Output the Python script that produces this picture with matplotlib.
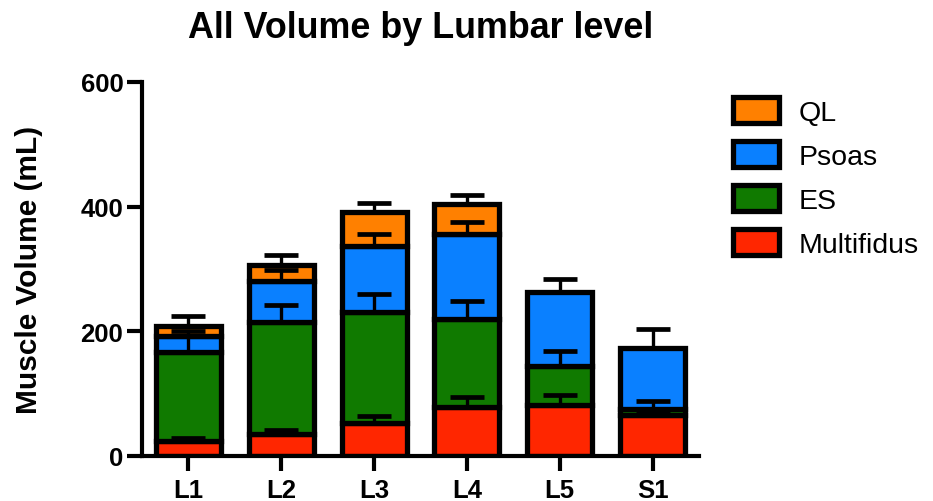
import matplotlib
matplotlib.use("Agg")
import matplotlib.pyplot as plt
from matplotlib.patches import Patch
import numpy as np

plt.rcParams['font.family'] = ['Liberation Sans', 'DejaVu Sans']

levels = ["L1", "L2", "L3", "L4", "L5", "S1"]
series = ["Multifidus", "ES", "Psoas", "QL"]
multifidus = [24, 35, 52.5, 79, 82, 65]
es = [143.5, 180, 178, 141, 62, 10.5]
psoas = [24.5, 66, 107, 136.5, 119, 98]
ql = [17, 26, 54, 48, 0, 0]
multifidus_err = [5, 7, 11, 15, 16, 5]
es_err = [25, 28, 30, 29, 24.6, 12.5]
psoas_err = [8, 18, 18, 18.5, 21, 30.5]
ql_err = [16, 15, 14, 14.5, 0, 0]
colors = ["#FF2600", "#107A00", "#0A80FF", "#FF8000"]

values = [multifidus, es, psoas, ql]
errors = [multifidus_err, es_err, psoas_err, ql_err]

W, H = 933, 502
fig = plt.figure(figsize=(W / 100, H / 100), dpi=100)
ax = fig.add_axes([142 / W, 1 - 457 / H, (699 - 142) / W, (457 - 83) / H])

x = np.arange(len(levels))
bottom = np.zeros(len(levels))
lw = 3.8
for vals, errs, col, name in zip(values, errors, colors, series):
    vals = np.array(vals, dtype=float)
    errs = np.array(errs, dtype=float)
    mask = vals > 0
    ax.bar(x[mask], vals[mask], bottom=bottom[mask], width=0.7, color=col,
           edgecolor="black", linewidth=lw, zorder=2, label=name)
    top = bottom + vals
    emask = mask & (errs > 0)
    ax.errorbar(x[emask], top[emask], yerr=[np.zeros(emask.sum()), errs[emask]],
                fmt="none", ecolor="black", elinewidth=2.4, capsize=12,
                capthick=3.4, zorder=4)
    bottom = top

ax.set_xlim(-0.5, 5.5)
ax.set_ylim(0, 600)
ax.set_yticks([0, 200, 400, 600])
ax.set_xticks(x)
ax.set_xticklabels(levels)
for s in ["top", "right"]:
    ax.spines[s].set_visible(False)
for s in ["left", "bottom"]:
    ax.spines[s].set_linewidth(3)
ax.tick_params(axis="both", width=3, length=10.5, labelsize=18.5, direction="out")
ax.tick_params(axis="y", pad=3)
ax.tick_params(axis="x", pad=5)
for lab in ax.get_xticklabels() + ax.get_yticklabels():
    lab.set_fontweight("bold")

ax.set_ylabel("Muscle Volume (mL)", fontsize=21.5, fontweight="bold", labelpad=27)
fig.text(421 / W, 1 - 28 / H, "All Volume by Lumbar level", fontsize=25.8,
         fontweight="bold", ha="center", va="center")

handles = [Patch(facecolor=c, edgecolor="black", linewidth=lw) for c in colors][::-1]
leg = ax.legend(handles, series[::-1], loc="upper left",
                bbox_to_anchor=(733 / W, 1 - 98 / H), bbox_transform=fig.transFigure,
                frameon=False, fontsize=20.5, handlelength=1.6, handleheight=1.05,
                labelspacing=0.53, handletextpad=0.7, borderpad=0, borderaxespad=0)

fig.savefig("out.png", dpi=100)
